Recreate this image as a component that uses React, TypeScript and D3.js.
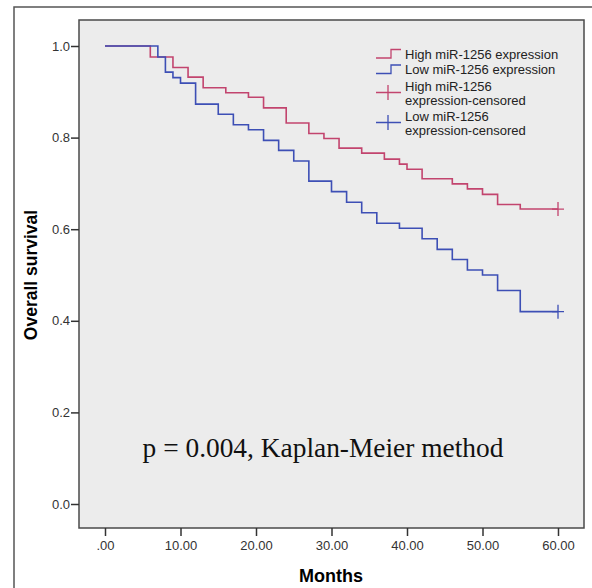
import React, { useEffect, useRef } from "react";
import * as d3 from "d3";

// event times (months) and survival after each step
const highTimes = [0, 6, 9, 11, 13, 16, 19, 21, 24, 27, 29, 31, 34, 37, 39, 40, 42, 46, 48, 50, 52, 55, 60];
const highSurv = [1, 0.976, 0.953, 0.932, 0.909, 0.898, 0.888, 0.865, 0.832, 0.809, 0.798, 0.777, 0.766, 0.753, 0.742, 0.731, 0.71, 0.699, 0.688, 0.676, 0.654, 0.644, 0.644];
const lowTimes = [0, 7, 8, 9, 10, 12, 15, 17, 19, 21, 23, 25, 27, 30, 32, 34, 36, 39, 42, 44, 46, 48, 50, 52, 55, 60];
const lowSurv = [1, 0.976, 0.943, 0.931, 0.919, 0.873, 0.851, 0.828, 0.817, 0.794, 0.772, 0.749, 0.705, 0.682, 0.659, 0.636, 0.613, 0.602, 0.579, 0.556, 0.534, 0.511, 0.5, 0.466, 0.42, 0.42];
const censorTime = 60;
const xTicks = [0, 10, 20, 30, 40, 50, 60];
const yTicks = [0, 0.2, 0.4, 0.6, 0.8, 1.0];
const legendLabels = [
  ["High miR-1256 expression"],
  ["Low miR-1256 expression"],
  ["High miR-1256", "expression-censored"],
  ["Low miR-1256", "expression-censored"],
];

const RED = "#c2446e";
const BLUE = "#3d4fb5";

export default function App() {
  const ref = useRef<SVGSVGElement>(null);

  useEffect(() => {
    const svg = d3.select(ref.current);
    svg.selectAll("*").remove();

    const plotL = 79, plotR = 584, plotT = 20, plotB = 528;
    const x = d3.scaleLinear().domain([0, 60]).range([105, 558]);
    const y = d3.scaleLinear().domain([0, 1]).range([504, 46]);

    // outer frame
    svg.append("path").attr("d", "M14,588V7H592").attr("fill", "none").attr("stroke", "#555").attr("stroke-width", 1.5);

    svg.append("rect")
      .attr("x", plotL).attr("y", plotT)
      .attr("width", plotR - plotL).attr("height", plotB - plotT)
      .attr("fill", "#ececec").attr("stroke", "#4a4a4a").attr("stroke-width", 1.5);

    const font = "'Liberation Sans', Arial, sans-serif";

    // y axis
    const yAxis = svg.append("g").attr("transform", `translate(${plotL},0)`)
      .call(d3.axisLeft(y).tickValues(yTicks).tickSize(8).tickFormat(d3.format(".1f")));
    yAxis.select(".domain").remove();
    yAxis.selectAll("line").attr("stroke", "#333").attr("stroke-width", 1.5);
    yAxis.selectAll("text").attr("font-family", font).attr("font-size", 13).attr("fill", "#333").attr("x", -9);

    // x axis
    const xAxis = svg.append("g").attr("transform", `translate(0,${plotB})`)
      .call(d3.axisBottom(x).tickValues(xTicks).tickSize(8).tickFormat(d => (d === 0 ? ".00" : d3.format(".2f")(d as number))));
    xAxis.select(".domain").remove();
    xAxis.selectAll("line").attr("stroke", "#333").attr("stroke-width", 1.5);
    xAxis.selectAll("text").attr("font-family", font).attr("font-size", 13).attr("fill", "#333").attr("y", 13);

    svg.append("text").attr("x", 331).attr("y", 582).attr("text-anchor", "middle")
      .attr("font-family", font).attr("font-weight", "bold").attr("font-size", 18).text("Months");
    svg.append("text").attr("transform", "translate(37,275) rotate(-90)").attr("text-anchor", "middle")
      .attr("font-family", font).attr("font-weight", "bold").attr("font-size", 17.5).text("Overall survival");

    const series = [
      { t: highTimes, s: highSurv, c: RED },
      { t: lowTimes, s: lowSurv, c: BLUE },
    ];
    series.forEach(({ t, s, c }) => {
      const pts: [number, number][] = t.map((tt, i) => [x(tt), y(s[i])]);
      svg.append("path")
        .attr("d", d3.line().curve(d3.curveStepAfter)(pts))
        .attr("fill", "none").attr("stroke", c).attr("stroke-width", 1.6);
      const cx = x(censorTime), cy = y(s[s.length - 1]);
      svg.append("path").attr("d", `M${cx},${cy - 7}V${cy + 7}M${cx - 6},${cy}H${cx + 6}`)
        .attr("stroke", c).attr("stroke-width", 1.3);
    });

    // legend
    const lg = svg.append("g").attr("font-family", font).attr("font-size", 13).attr("fill", "#222");
    const rowsY = [54, 69.5, 86, 116];
    legendLabels.forEach((lab, i) => {
      const c = i % 2 === 0 ? RED : BLUE;
      const yy = rowsY[i];
      if (i < 2) {
        lg.append("path").attr("d", `M376,${yy + 4}H391V${yy - 4.5}H401`)
          .attr("fill", "none").attr("stroke", c).attr("stroke-width", 1.3);
      } else {
        const cy = yy + 6.5;
        lg.append("path").attr("d", `M376,${cy}H401M388,${cy - 7.5}V${cy + 7.5}`)
          .attr("fill", "none").attr("stroke", c).attr("stroke-width", 1.3);
      }
      lab.forEach((l, j) => {
        lg.append("text").attr("x", 405).attr("y", yy + 4.5 + j * 14).text(l);
      });
    });

    svg.append("text").attr("x", 323).attr("y", 457).attr("text-anchor", "middle")
      .attr("font-family", "'Liberation Serif', 'Times New Roman', serif").attr("font-size", 27.4)
      .attr("fill", "#111").text("p = 0.004, Kaplan-Meier method");
  }, []);

  return (
    <svg ref={ref} width={592} height={588}
      style={{ position: "absolute", left: 0, top: 0, background: "#fff" }} />
  );
}
